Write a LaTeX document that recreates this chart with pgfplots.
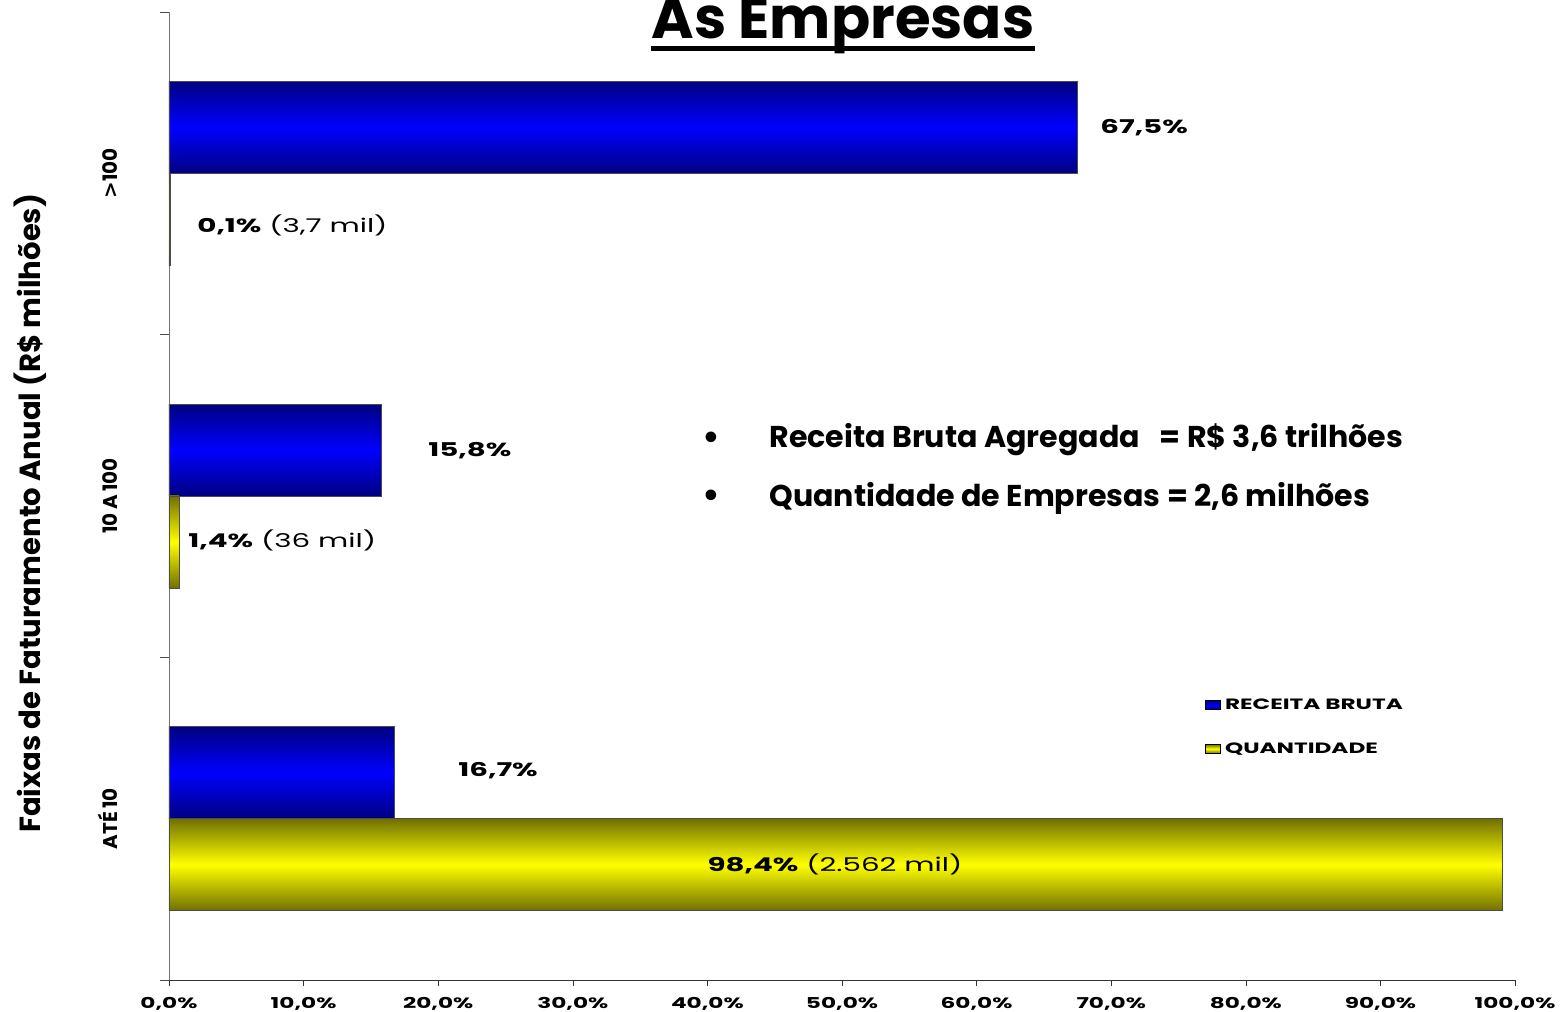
\documentclass[border=0pt]{standalone}
\usepackage{pgfplots}
\pgfplotsset{compat=1.18}
\usepackage{fontspec}
\setmainfont{Poppins}
\newfontfamily\tah{DejaVu Sans}
\definecolor{bdark}{HTML}{000080}
\definecolor{bmid}{HTML}{0000FF}
\definecolor{ydark}{HTML}{707000}
\definecolor{ymid}{HTML}{FFFF00}
\newcommand{\wide}[1]{\scalebox{1.55}[1]{#1}}
\pgfplotsset{
  bluebar/.style={xbar, bar width=0.285, bar shift=0.1425, draw=black!70, line width=0.4bp,
    top color=bdark, bottom color=bdark, middle color=bmid,
    legend image code/.code={\draw[fill=bmid, draw=black, line width=0.5bp] (0bp,-2bp) rectangle (7.5bp,2.5bp);}},
  yellowbar/.style={xbar, bar width=0.285, bar shift=-0.1425, draw=black!70, line width=0.4bp,
    top color=ydark, bottom color=ydark, middle color=ymid,
    legend image code/.code={\draw[fill=ymid, draw=black, line width=0.5bp] (0bp,-2bp) rectangle (7.5bp,2.5bp);}},
}
\begin{document}
\begin{tikzpicture}
\begin{axis}[
  scale only axis, width=673bp, height=484bp,
  xmin=0, xmax=100, ymin=-0.5, ymax=2.5,
  axis x line=bottom, axis y line=left, axis line style={-},
  x axis line style={black!80}, y axis line style={black!55},
  xtick={0,10,...,100},
  xticklabels={{\wide{0,0\%}},{\wide{10,0\%}},{\wide{20,0\%}},{\wide{30,0\%}},{\wide{40,0\%}},{\wide{50,0\%}},{\wide{60,0\%}},{\wide{70,0\%}},{\wide{80,0\%}},{\wide{90,0\%}},{\wide{100,0\%}}},
  x tick label style={font=\bfseries\fontsize{7.5}{9}\selectfont, yshift=-2bp},
  ytick={0,1,2},
  yticklabels={{AT\'E\,10},{10\,A\,100},{{\tah >}100}},
  y tick label style={font=\bfseries\fontsize{10}{11}\selectfont, xshift=-19bp, rotate=90, anchor=south},
  major y tick style={draw=none},
  minor ytick={-0.5,0.5,1.5,2.5},
  minor y tick style={draw=black!70},
  minor tick length=4.5bp, major tick length=3bp,
  tick align=outside,
  x tick style={black!80},
  ylabel={\bfseries Faixas de Faturamento Anual (R\$ milhões)},
  ylabel style={at={(axis description cs:-0.1033,0.482)}, anchor=center, font=\fontsize{14.6}{16}\selectfont},
  legend style={draw=none, fill=none, at={(0.765,0.299)}, anchor=north west,
    font=\bfseries\fontsize{7.5}{9}\selectfont, row sep=11bp},
  legend cell align=left,
  clip=false,
]
% RECEITA BRUTA
\addplot[bluebar] coordinates {(16.75,0)};
\addlegendentry{\wide{RECEITA BRUTA}}
\addplot[bluebar, forget plot] coordinates {(15.8,1)};
\addplot[bluebar, forget plot] coordinates {(67.5,2)};
% QUANTIDADE
\addplot[yellowbar] coordinates {(99.05,0)};
\addlegendentry{\wide{QUANTIDADE}}
\addplot[yellowbar, forget plot] coordinates {(0.75,1)};
\addplot[yellowbar, forget plot] coordinates {(0.1,2)};
\begin{scope}[font=\fontsize{9.5}{12}\selectfont, inner sep=0pt]
\node[anchor=west] at (axis cs:69.17,2.141) {\wide{\bfseries 67,5\%}};
\node[anchor=west] at (axis cs:2.08,1.838) {\wide{\textbf{0,1\%} (3,7 mil)}};
\node[anchor=west] at (axis cs:19.24,1.142) {\wide{\bfseries 15,8\%}};
\node[anchor=west] at (axis cs:1.41,0.861) {\wide{\textbf{1,4\%} (36 mil)}};
\node[anchor=west] at (axis cs:21.47,0.150) {\wide{\bfseries 16,7\%}};
\node[anchor=center] at (axis cs:49.48,-0.141) {\wide{\textbf{98,4\%} (2.562 mil)}};
\end{scope}
\end{axis}
\node[anchor=base, inner sep=0pt, font=\bfseries\fontsize{29}{32}\selectfont] (t) at (337bp,470.5bp) {As Empresas};
\draw[line width=2.5bp] ([yshift=-5bp]t.base west) -- ([yshift=-5bp]t.base east);
\begin{scope}[font=\bfseries\fontsize{15.1}{17}\selectfont]
\node at (271bp,270bp) {\tah•};
\node at (271bp,241bp) {\tah•};
\node[anchor=west, inner sep=0pt] at (300bp,270bp) {Receita Bruta Agregada\hspace{0.45em} = R\$ 3,6 trilhões};
\node[anchor=west, inner sep=0pt] at (300bp,241bp) {Quantidade de Empresas = 2,6 milhões};
\end{scope}
\pgfresetboundingbox
\path[use as bounding box] (-84.5bp,-16bp) rectangle (696.5bp,490bp);
\end{tikzpicture}
\end{document}
